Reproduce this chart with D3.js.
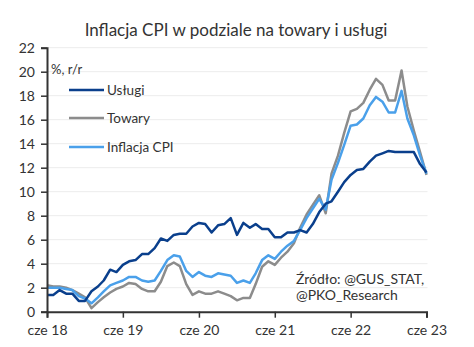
<!DOCTYPE html>
<html><head><meta charset="utf-8">
<script src="https://cdn.jsdelivr.net/npm/d3@7"></script>
<style>
html,body{margin:0;padding:0;background:#fff;}
svg text{font-family:Lato,"Noto Sans",sans-serif;fill:#333;}
</style></head>
<body><svg id="c" width="474" height="347"></svg>
<script>
const startMonth = "2018-06";
const uslugi = [1.4,1.4,1.8,1.5,1.5,0.9,0.9,
  1.7,2.1,2.6,3.5,3.3,3.9,4.2,4.3,4.8,4.8,5.3,6.1,
  5.9,6.4,6.5,6.5,7.1,7.4,7.3,6.6,7.2,7.3,7.8,6.4,
  7.4,7.0,7.3,6.9,6.9,6.2,6.2,6.6,6.6,6.8,6.6,7.3,
  8.3,9.0,9.2,10.0,10.8,11.4,11.8,11.9,12.5,13.0,13.2,13.4,
  13.3,13.3,13.3,13.3,12.3,11.6];
const towary = [2.2,2.1,2.1,2.0,1.8,1.5,1.2,
  0.3,0.8,1.2,1.6,1.9,2.1,2.4,2.3,1.9,1.7,1.7,2.5,
  3.8,4.1,3.8,2.3,1.4,1.7,1.5,1.5,1.7,1.5,1.3,0.95,
  1.15,1.15,2.3,3.75,4.2,3.9,4.5,5.0,5.7,7.0,8.1,8.9,
  9.7,8.2,11.5,13.0,14.9,16.7,16.9,17.4,18.5,19.4,18.9,17.6,
  17.6,20.1,17.1,15.1,13.3,11.4];
const cpi = [2.0,2.0,2.0,1.9,1.8,1.3,1.1,
  0.7,1.2,1.7,2.2,2.4,2.6,2.9,2.9,2.6,2.5,2.6,3.4,
  4.3,4.7,4.6,3.4,2.9,3.3,3.0,2.9,3.2,3.1,3.0,2.4,
  2.6,2.4,3.2,4.3,4.7,4.4,5.0,5.5,5.9,6.8,7.8,8.6,
  9.4,8.5,11.0,12.4,13.9,15.5,15.6,16.1,17.2,17.9,17.5,16.6,
  16.6,18.4,16.1,14.7,13.0,11.5];
const xTickLabels = ["cze 18","cze 19","cze 20","cze 21","cze 22","cze 23"];
const yTicks = [0,2,4,6,8,10,12,14,16,18,20,22];
const seriesNames = ["Usługi","Towary","Inflacja CPI"];
const seriesColors = ["#0a3f8c","#8c8c8c","#4aa0ea"];

const svg = d3.select("#c");
const mLeft = 47, mRight = 426.5, mTop = 47.7, mBottom = 311.7;
const t0 = d3.timeParse("%Y-%m")(startMonth);
const months = d3.range(uslugi.length).map(i => d3.timeMonth.offset(t0, i));
const x = d3.scaleTime().domain([months[0], months[months.length-1]]).range([mLeft, mRight]);
const y = d3.scaleLinear().domain([0,22]).range([mBottom, mTop]);

// gridlines
svg.append("g").selectAll("line").data(yTicks.slice(1)).join("line")
  .attr("x1", mLeft).attr("x2", mRight+1).attr("y1", d=>y(d)).attr("y2", d=>y(d))
  .attr("stroke","#ececec").attr("stroke-width",1);

// title
svg.append("text").attr("x",236).attr("y",36).attr("text-anchor","middle")
  .style("font-size","17px").text("Inflacja CPI w podziale na towary i usługi");

// series
const line = d3.line().x((d,i)=>x(months[i])).y(d=>y(d));
const order = [1,2,0];
const data = [uslugi, towary, cpi];
order.forEach(k=>{
  svg.append("path").attr("d", line(data[k])).attr("fill","none")
    .attr("stroke", seriesColors[k]).attr("stroke-width",2.5)
    .attr("stroke-linejoin","round");
});

// axes
const yAxis = d3.axisLeft(y).tickValues(yTicks).tickSize(6).tickPadding(6);
const gy = svg.append("g").attr("transform",`translate(${mLeft},0)`).call(yAxis);
gy.select(".domain").attr("stroke","#333").attr("stroke-width",2);
gy.selectAll(".tick line").attr("stroke","#333").attr("stroke-width",1.5);
gy.selectAll(".tick text").style("font-size","14px").attr("fill","#333")
  .style("font-family","Lato,sans-serif");

const xTickDates = xTickLabels.map((d,i)=>d3.timeYear.offset(t0, i));
const xAxis = d3.axisBottom(x).tickValues(xTickDates).tickSize(6).tickPadding(7)
  .tickFormat((d,i)=>xTickLabels[i]);
const gx = svg.append("g").attr("transform",`translate(0,${mBottom})`).call(xAxis);
gx.select(".domain").attr("stroke","#333").attr("stroke-width",2);
gx.selectAll(".tick line").attr("stroke","#333").attr("stroke-width",1.5);
gx.selectAll(".tick text").style("font-size","14px").attr("fill","#333")
  .style("font-family","Lato,sans-serif");

// unit label
svg.append("text").attr("x",51).attr("y",74).style("font-size","13px").text("%, r/r");

// legend
const legY = [90,118,147];
seriesNames.forEach((n,k)=>{
  svg.append("line").attr("x1",69).attr("x2",104).attr("y1",legY[k]).attr("y2",legY[k])
    .attr("stroke",seriesColors[k]).attr("stroke-width",2.5);
  svg.append("text").attr("x",107).attr("y",legY[k]+4.5).style("font-size","13.5px").text(n);
});

// source
svg.append("text").attr("x",296).attr("y",284).style("font-size","14px").text("Źródło: @GUS_STAT,");
svg.append("text").attr("x",296).attr("y",300).style("font-size","14px").text("@PKO_Research");
</script></body></html>
